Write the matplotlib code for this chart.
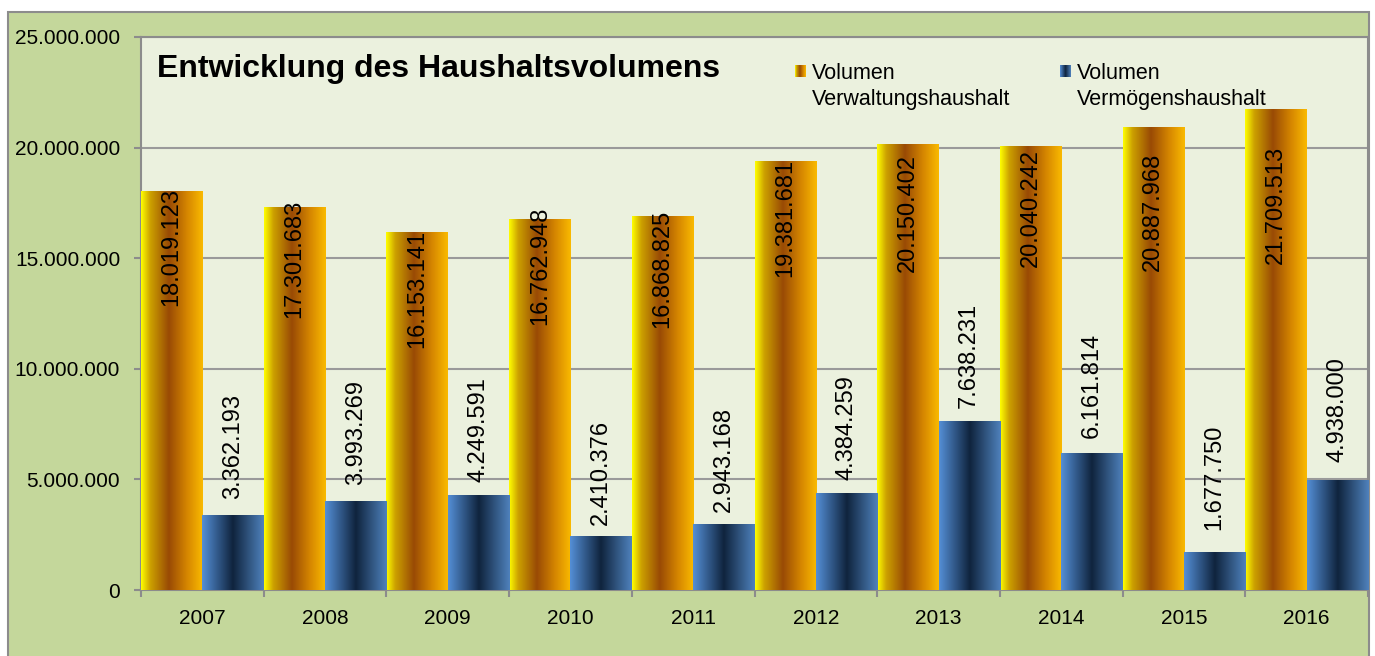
import numpy as np
import matplotlib
matplotlib.use("Agg")
import matplotlib.pyplot as plt
from matplotlib import font_manager
from matplotlib.colors import LinearSegmentedColormap
from matplotlib.patches import Rectangle

years = [2007, 2008, 2009, 2010, 2011, 2012, 2013, 2014, 2015, 2016]
verwaltung = [18019123, 17301683, 16153141, 16762948, 16868825,
              19381681, 20150402, 20040242, 20887968, 21709513]
vermoegen = [3362193, 3993269, 4249591, 2410376, 2943168,
             4384259, 7638231, 6161814, 1677750, 4938000]
yticks = [0, 5000000, 10000000, 15000000, 20000000, 25000000]
title = "Entwicklung des Haushaltsvolumens"
leg_labels = ["Volumen\nVerwaltungshaushalt", "Volumen\nVermögenshaushalt"]

# label placement (px from bar top), labels were moved by hand in the original
gold_shift = [0, -4, 1, -9, -4, 1, 13, 6, 28, 40]
blue_gap = [17, 17, 14, 12, 13, 13, 13, 16, 23, 19]

names = {f.name for f in font_manager.fontManager.ttflist}
narrow = "Liberation Sans Narrow" if "Liberation Sans Narrow" in names else "Liberation Sans"
plt.rcParams["font.family"] = ["Liberation Sans", "DejaVu Sans"]

gold = LinearSegmentedColormap.from_list("gold", [
    (0.0, (1.0, 1.0, 0.0)), (0.15, (0.80, 0.63, 0.0)), (0.45, (0.60, 0.29, 0.02)),
    (0.75, (0.84, 0.53, 0.0)), (1.0, (0.98, 0.73, 0.0))])
blue = LinearSegmentedColormap.from_list("blue", [
    (0.0, (0.33, 0.56, 0.84)), (0.5, (0.06, 0.14, 0.24)), (1.0, (0.31, 0.51, 0.74))])
grad = np.linspace(0, 1, 256).reshape(1, -1)

def fmt(v):
    return f"{v:,}".replace(",", ".")

fig = plt.figure(figsize=(13.75, 6.56), dpi=100, facecolor="white")
fig.patches.append(Rectangle((8 / 1375, -0.05), (1369 - 8) / 1375, 1 - 12 / 656 + 0.05,
                             transform=fig.transFigure, facecolor="#c4d79b",
                             edgecolor="#8c8c8c", linewidth=1.5, zorder=-5))

ax = fig.add_axes([141 / 1375, 1 - 590 / 656, (1368 - 141) / 1375, (590 - 37) / 656])
ax.set_facecolor("#ebf1de")

x = np.arange(len(years))
w = 0.5
b1 = ax.bar(x - w / 2, verwaltung, w, facecolor="none", edgecolor="none", zorder=3)
b2 = ax.bar(x + w / 2, vermoegen, w, facecolor="none", edgecolor="none", zorder=3)

for bars, cmap in ((b1, gold), (b2, blue)):
    for r in bars:
        bx, by, bw, bh = r.get_x(), r.get_y(), r.get_width(), r.get_height()
        ax.imshow(grad, cmap=cmap, extent=[bx, bx + bw, by, by + bh],
                  aspect="auto", zorder=3, interpolation="bilinear")

for xi, v, d in zip(x - w / 2, verwaltung, gold_shift):
    ax.annotate(fmt(v), (xi, v), xytext=(0, (3.5 - d) * 0.72), textcoords="offset points",
                rotation=90, ha="center", va="top", fontsize=17, zorder=5)
for xi, v, g in zip(x + w / 2, vermoegen, blue_gap):
    ax.annotate(fmt(v), (xi, v), xytext=(0, g * 0.72), textcoords="offset points",
                rotation=90, ha="center", va="bottom", fontsize=17, zorder=5)

ax.set_xlim(-0.5, len(years) - 0.5)
ax.set_ylim(0, 25000000)
ax.set_yticks(yticks)
ax.set_yticklabels([fmt(t) for t in yticks], fontfamily=narrow, fontsize=15)
ax.set_xticks(x)
ax.set_xticklabels([str(y) for y in years], fontfamily=narrow, fontsize=15)
ax.set_xticks(np.arange(len(years) + 1) - 0.5, minor=True)
ax.tick_params(axis="x", which="major", length=0, pad=14)
ax.tick_params(axis="x", which="minor", length=5, width=1.5, color="#8c8c8c", direction="out")
ax.tick_params(axis="y", length=5, width=1.5, color="#8c8c8c", pad=10)
ax.yaxis.grid(True, color="#9a9a9a", linewidth=1.5, zorder=1)
ax.set_axisbelow(True)
for s in ("left", "bottom", "top", "right"):
    ax.spines[s].set_color("#8c8c8c")
    ax.spines[s].set_linewidth(1.5)

ax.text(0.013, 0.928, title, transform=ax.transAxes, fontsize=23,
        fontweight="bold", ha="left", va="baseline", zorder=6)

for i, (lab, cmap) in enumerate(zip(leg_labels, (gold, blue))):
    mx = (795 + i * 265) / 1375
    lax = fig.add_axes([mx, 1 - 77 / 656, 11 / 1375, 12 / 656])
    lax.imshow(grad, cmap=cmap, aspect="auto")
    lax.axis("off")
    fig.text(mx + 17 / 1375, 1 - 63 / 656, lab, fontsize=15.5, ha="left", va="top",
             linespacing=1.3)

fig.savefig("out.png", dpi=100, facecolor=fig.get_facecolor())
